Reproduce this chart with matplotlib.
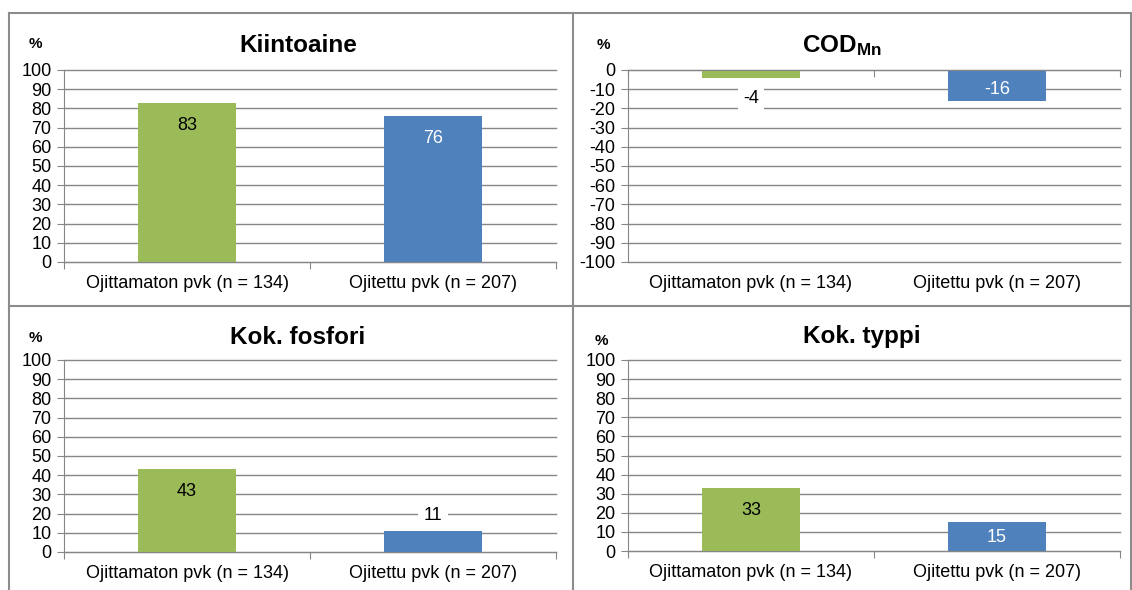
import matplotlib
matplotlib.use("Agg")
import matplotlib.pyplot as plt
from matplotlib.lines import Line2D
from matplotlib.transforms import blended_transform_factory

plt.rcParams['font.family'] = ['Liberation Sans', 'DejaVu Sans']
plt.rcParams['mathtext.fontset'] = 'custom'
plt.rcParams['mathtext.rm'] = 'Liberation Sans'
plt.rcParams['mathtext.bf'] = 'Liberation Sans:bold'
plt.rcParams['axes.unicode_minus'] = False

# data
categories = ["Ojittamaton pvk (n = 134)", "Ojitettu pvk (n = 207)"]
titles = ["Kiintoaine", r"$\mathbf{COD_{Mn}}$", "Kok. fosfori", "Kok. typpi"]
kiintoaine = [83, 76]
cod_mn = [-4, -16]
kok_fosfori = [43, 11]
kok_typpi = [33, 15]

green = "#9BBB59"
blue = "#4F81BD"
grid_col = "#868686"
frame_col = "#8C8C8C"

W, H = 1132, 590
fig = plt.figure(figsize=(W / 100, H / 100), dpi=100)

def px_axes(left, top, right, bottom):
    return fig.add_axes([left / W, 1 - bottom / H, (right - left) / W, (bottom - top) / H])

# panel layout in pixels: (left, top, right, bottom), title x/y, % x/y
panels = [
    (64, 70, 556, 262, 298, 46, 35, 44),
    (628, 70, 1120, 262, 842, 46, 603, 45),
    (64, 360, 556, 552, 298, 337, 35, 338),
    (628, 360, 1120, 551, 862, 337, 601, 341),
]
series = [kiintoaine, cod_mn, kok_fosfori, kok_typpi]
# label placement: "in" = inside end, "out" = outside end
placements = [["in", "in"], ["out", "in"], ["in", "out"], ["in", "in"]]
pt = 72 / 100  # px -> points

for i, vals in enumerate(series):
    l, t, r, b, tx, ty, px_, py_ = panels[i]
    ax = px_axes(l, t, r, b)
    neg = vals[0] < 0
    if neg:
        ax.set_ylim(-100, 0)
        ax.set_yticks(range(-100, 1, 10))
    else:
        ax.set_ylim(0, 100)
        ax.set_yticks(range(0, 101, 10))
    ax.set_xlim(-0.5, 1.5)
    ax.yaxis.grid(True, color=grid_col, lw=1)
    for gl in ax.get_ygridlines():
        gl.set_clip_on(False)
    ax.set_axisbelow(True)
    ax.bar([0, 1], vals, width=0.4, color=[green, blue], zorder=2)
    for s in ["top", "right"]:
        ax.spines[s].set_visible(False)
    ax.spines["left"].set_color(grid_col)
    ax.spines["bottom"].set_color(grid_col)
    ax.spines["bottom"].set_position(("data", 0))
    ax.spines["bottom"].set_zorder(3)
    ax.set_xticks([-0.5, 0.5, 1.5])
    ax.set_xticklabels([])
    ax.tick_params(axis="x", direction="out", length=5, color=grid_col)
    ax.tick_params(axis="y", direction="out", length=5, color=grid_col,
                   labelsize=13, pad=4)
    trans = blended_transform_factory(ax.transData, ax.transAxes)
    for k, c in enumerate(categories):
        ax.text(k, -22 / 192, c, transform=trans, ha="center", va="center", fontsize=13)
    plot_h = b - t
    for k, v in enumerate(vals):
        sign = 1 if v >= 0 else -1
        bar_px = abs(v) / 100 * plot_h
        if placements[i][k] == "in":
            off_px = -sign * min(20, max(12, bar_px * 0.44))
            col = "black" if k == 0 else "white"
            bbox = None
        else:
            off_px = sign * 18
            col = "black"
            bbox = dict(boxstyle="square,pad=0.3", fc="white", ec="none")
        # va="center" sits a bit high, nudge down
        off = (off_px - 2.5) * pt
        ax.annotate(str(v), (k, v), xytext=(0, off), textcoords="offset points",
                    ha="center", va="center", fontsize=13, color=col, bbox=bbox, zorder=4)
    fig.text(tx / W, 1 - ty / H, titles[i], ha="center", va="center",
             fontsize=17.5, fontweight="bold")
    fig.text(px_ / W, 1 - py_ / H, "%", ha="center", va="center",
             fontsize=11, fontweight="bold")

# panel frames
def fig_line(x0, y0, x1, y1):
    fig.add_artist(Line2D([x0 / W, x1 / W], [1 - y0 / H, 1 - y1 / H],
                          transform=fig.transFigure, color=frame_col, lw=1.5))

fig_line(9, 13, 1131, 13)
fig_line(9, 13, 9, 590)
fig_line(1131, 13, 1131, 590)
fig_line(573, 13, 573, 590)
fig_line(9, 306, 1131, 306)

fig.savefig("out.png", dpi=100)
